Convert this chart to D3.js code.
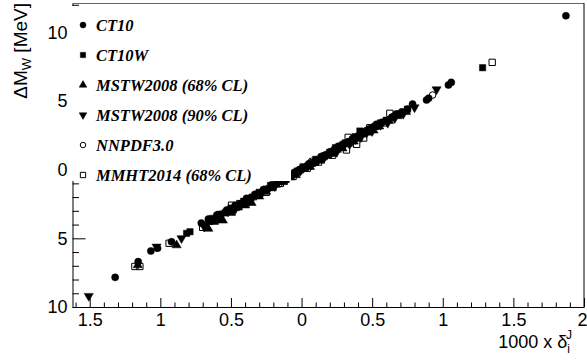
<!DOCTYPE html>
<html>
<head>
<meta charset="utf-8">
<script src="https://cdn.jsdelivr.net/npm/d3@7/dist/d3.min.js"></script>
<style>
  body { margin: 0; background: #fff; }
  svg { display: block; }
</style>
</head>
<body>
<div id="chart"></div>
<script>
// tick labels as printed on the reference (minus signs are not drawn there)
const xTickValues = [-1.5, -1, -0.5, 0, 0.5, 1, 1.5, 2];
const xTickLabels = ["1.5", "1", "0.5", "0", "0.5", "1", "1.5", "2"];
const yTickValues = [-10, -5, 0, 5, 10];
const yTickLabels = ["10", "5", "0", "5", "10"];

const seriesNames = ["CT10", "CT10W", "MSTW2008 (68% CL)", "MSTW2008 (90% CL)", "NNPDF3.0", "MMHT2014 (68% CL)"];

// [1000 x delta, delta M_W]
const ct10 = [[-1.32,-7.84],[-1.157,-6.70],[-1.067,-5.92],[-1.02,-5.72],[-0.921,-5.25],[-0.71,-3.89],[-0.66,-3.60],
  [-0.64,-3.75],[-0.60,-3.30],[-0.57,-3.25],[-0.53,-2.94],[-0.50,-2.95],[-0.47,-2.60],[-0.44,-2.55],[-0.39,-2.09],
  [-0.36,-2.10],[-0.33,-1.80],[-0.30,-1.75],[-0.27,-1.45],[-0.24,-1.40],[-0.21,-1.10],[-0.18,-1.05],[-0.154,-0.76],
  [-0.12,-0.75],[-0.10,-0.48],[-0.07,-0.45],[-0.05,-0.20],[-0.02,-0.15],[0.0,0.08],[0.03,0.15],[0.05,0.40],
  [0.08,0.45],[0.11,0.72],[0.14,0.95],[0.17,1.08],[0.20,1.30],[0.23,1.45],[0.26,1.70],[0.29,1.85],[0.33,2.00],
  [0.36,2.25],[0.40,2.45],[0.43,2.62],[0.46,2.85],[0.50,3.05],[0.53,3.30],[0.57,3.45],[0.60,3.55],[0.64,3.82],
  [0.67,4.05],[0.71,4.20],[0.75,4.40],[0.786,4.77],[0.885,5.07],[0.90,5.20],[1.04,6.16],[1.06,6.35],[1.872,11.2]];
const ct10w = [[-0.814,-4.64],[-0.79,-4.52],[-0.68,-4.00],[-0.63,-3.55],[-0.58,-3.25],[-0.54,-3.15],[-0.50,-2.80],
  [-0.46,-2.75],[-0.41,-2.30],[-0.35,-2.00],[-0.30,-1.65],[-0.26,-1.55],[-0.22,-1.15],[-0.17,-0.85],[-0.12,-0.60],
  [-0.08,-0.35],[-0.03,-0.10],[0.01,0.20],[0.06,0.42],[0.10,0.75],[0.14,0.90],[0.20,1.25],[0.24,1.60],[0.27,1.66],
  [0.31,1.95],[0.34,2.05],[0.38,2.40],[0.413,2.81],[0.43,2.60],[0.48,2.95],[0.52,3.15],[0.56,3.40],[0.60,3.60],
  [0.69,4.05],[0.75,4.40],[1.282,7.42]];
const mstw68 = [[-1.16,-6.95],[-0.885,-5.50],[-0.66,-4.30],[-0.62,-3.80],[-0.567,-3.66],[-0.557,-3.70],[-0.50,-3.15],
  [-0.45,-2.75],[-0.40,-2.60],[-0.354,-2.42],[-0.30,-1.95],[-0.25,-1.60],[-0.21,-1.35],[-0.18,-1.10],[-0.13,-0.90],
  [-0.08,-0.55],[-0.04,-0.40],[0.02,0.05],[0.06,0.20],[0.09,0.50],[0.13,0.65],[0.18,1.00],[0.22,1.15],[0.25,1.45],
  [0.29,1.55],[0.33,1.90],[0.37,2.05],[0.40,2.30],[0.47,2.70],[0.51,2.85],[0.55,3.15],[0.62,3.55],[0.68,3.90],
  [0.74,4.20]];
const mstw90 = [[-1.507,-9.2],[-1.027,-5.61],[-0.85,-5.0],[-0.69,-4.15],[-0.64,-3.65],[-0.59,-3.55],[-0.52,-3.05],
  [-0.47,-2.90],[-0.42,-2.45],[-0.37,-2.30],[-0.32,-1.85],[-0.28,-1.70],[-0.24,-1.38],[-0.19,-1.20],[-0.14,-0.80],
  [-0.10,-0.65],[-0.06,-0.32],[-0.01,-0.10],[0.03,0.22],[0.07,0.35],[0.12,0.70],[0.16,0.85],[0.21,1.22],
  [0.25,1.30],[0.30,1.75],[0.34,1.85],[0.38,2.20],[0.42,2.35],[0.46,2.68],[0.50,2.80],[0.56,3.25],[0.61,3.40],
  [0.66,3.75],[0.72,4.05],[0.80,4.53],[0.956,5.84]];
const nnpdf30 = [[-0.60,-3.45],[-0.54,-3.10],[-0.48,-2.80],[-0.449,-2.57],[-0.40,-2.40],[-0.36,-2.05],[-0.31,-1.80],
  [-0.26,-1.50],[-0.22,-1.30],[-0.17,-0.95],[-0.13,-0.70],[-0.09,-0.52],[-0.05,-0.30],[-0.02,-0.05],[0.01,0.05],
  [0.04,0.30],[0.07,0.60],[0.10,0.62],[0.15,1.00],[0.19,1.15],[0.23,1.40],[0.26,1.58],[0.32,1.95],[0.37,2.30],
  [0.44,2.62],[0.49,3.00],[0.54,3.15],[0.65,3.85],[0.928,5.43]];
const mmht2014 = [[-1.18,-7.05],[-1.145,-7.05],[-0.938,-5.36],[-0.70,-4.20],[-0.496,-2.59],[-0.437,-2.47],
  [-0.40,-2.35],[-0.30,-1.75],[-0.25,-1.65],[-0.20,-1.20],[-0.15,-1.00],[-0.11,-0.70],[-0.06,-0.50],[-0.01,-0.02],
  [0.04,0.10],[0.08,0.50],[0.12,0.55],[0.16,0.95],[0.22,1.05],[0.318,1.43],[0.33,2.35],[0.39,1.84],[0.44,2.30],
  [0.484,3.05],[0.58,3.40],[0.625,4.1],[1.35,7.81]];

const allSeries = [ct10, ct10w, mstw68, mstw90, nnpdf30, mmht2014];

// marker style per series
const markers = [
  { type: d3.symbolCircle, rot: 0, filled: true, size: 40 },
  { type: d3.symbolSquare, rot: 0, filled: true, size: 40 },
  { type: d3.symbolTriangle, rot: 0, filled: true, size: 36 },
  { type: d3.symbolTriangle, rot: 180, filled: true, size: 36 },
  { type: d3.symbolCircle, rot: 0, filled: false, size: 34 },
  { type: d3.symbolSquare, rot: 0, filled: false, size: 40 }
];

const W = 587, H = 362;
const frame = { left: 72.5, right: 584, top: 3, bottom: 307 };

const svg = d3.select("#chart").append("svg")
  .attr("width", W).attr("height", H)
  .style("font-family", "'Liberation Sans', Arial, sans-serif");

const x = d3.scaleLinear().domain([-1.622, 2]).range([frame.left, frame.right]);
const y = d3.scaleLinear().domain([-10, 12.13]).range([frame.bottom, frame.top]);

// minor ticks
const xMinor = d3.range(-16, 21).map(d => d / 10).filter(d => !xTickValues.some(v => Math.abs(v - d) < 1e-9));
const yMinor = d3.range(-10, 13).filter(d => !yTickValues.includes(d));

svg.append("g")
  .attr("transform", "translate(0," + frame.bottom + ")")
  .call(d3.axisBottom(x).tickValues(xMinor).tickSize(-4.5).tickFormat(""))
  .call(g => g.select(".domain").remove());
svg.append("g")
  .attr("transform", "translate(" + frame.left + ",0)")
  .call(d3.axisLeft(y).tickValues(yMinor).tickSize(-6.5).tickFormat(""))
  .call(g => g.select(".domain").remove());

// major ticks + labels
const xAxis = svg.append("g")
  .attr("transform", "translate(0," + frame.bottom + ")")
  .call(d3.axisBottom(x).tickValues(xTickValues).tickSize(-9).tickSizeOuter(0).tickPadding(6)
    .tickFormat((d, i) => xTickLabels[i]));
xAxis.selectAll("text").style("font-size", "18px").attr("fill", "#000");
// last label sits on the window edge; nudge it inside
xAxis.selectAll(".tick:last-of-type text").attr("text-anchor", "end").attr("dx", 3);

const yAxis = svg.append("g")
  .attr("transform", "translate(" + frame.left + ",0)")
  .call(d3.axisLeft(y).tickValues(yTickValues).tickSize(-13).tickSizeOuter(0).tickPadding(5)
    .tickFormat((d, i) => yTickLabels[i]));
yAxis.selectAll("text").style("font-size", "18px").attr("fill", "#000");

// frame top and right
svg.append("line").attr("x1", frame.left).attr("x2", frame.right).attr("y1", frame.top + 0.5).attr("y2", frame.top + 0.5)
  .attr("stroke", "#666").attr("stroke-width", 1.2);
svg.append("line").attr("x1", frame.right).attr("x2", frame.right).attr("y1", frame.top).attr("y2", frame.bottom)
  .attr("stroke", "#000");

// points
const sym = d3.symbol();
allSeries.forEach((pts, s) => {
  const m = markers[s];
  svg.append("g").selectAll("path")
    .data(pts)
    .enter()
    .append("path")
    .attr("d", sym.type(m.type).size(m.size)())
    .attr("transform", d => "translate(" + x(d[0]) + "," + y(d[1]) + ")" + (m.rot ? " rotate(" + m.rot + ")" : ""))
    .attr("fill", m.filled ? "#000" : "none")
    .attr("stroke", "#000")
    .attr("stroke-width", m.filled ? 0.5 : 1);
});

// legend (white box hides the upper part of the left axis)
const legend = svg.append("g");
legend.append("rect").attr("x", 69).attr("y", frame.top + 3).attr("width", 222).attr("height", 178 - frame.top)
  .attr("fill", "#fff");
seriesNames.forEach((name, i) => {
  const m = markers[i];
  const cy = 25 + i * 30;
  legend.append("path")
    .attr("d", sym.type(m.type).size(m.size * 0.7)())
    .attr("transform", "translate(83," + cy + ")" + (m.rot ? " rotate(" + m.rot + ")" : ""))
    .attr("fill", m.filled ? "#000" : "#fff")
    .attr("stroke", "#000")
    .attr("stroke-width", m.filled ? 0.5 : 1);
  legend.append("text")
    .attr("x", 96).attr("y", cy + 6)
    .style("font-family", "'Liberation Serif', 'Times New Roman', serif")
    .style("font-weight", "bold").style("font-style", "italic")
    .style("font-size", "16.5px")
    .text(name);
});

// axis titles
const yt = svg.append("text")
  .attr("transform", "translate(27,3) rotate(-90)")
  .attr("text-anchor", "end")
  .style("font-size", "19px");
yt.append("tspan").text("ΔM");
yt.append("tspan").attr("dy", 4).style("font-size", "13px").text("W");
yt.append("tspan").attr("dy", -4).text(" [MeV]");

const xt = svg.append("text")
  .attr("x", 572).attr("y", 348)
  .attr("text-anchor", "end")
  .style("font-size", "18px");
xt.append("tspan").text("1000 x δ");
xt.append("tspan").attr("dy", 5).style("font-size", "12px").text("i");
xt.append("tspan").attr("dx", -4).attr("dy", -14).style("font-size", "12px").text("J");
</script>
</body>
</html>
